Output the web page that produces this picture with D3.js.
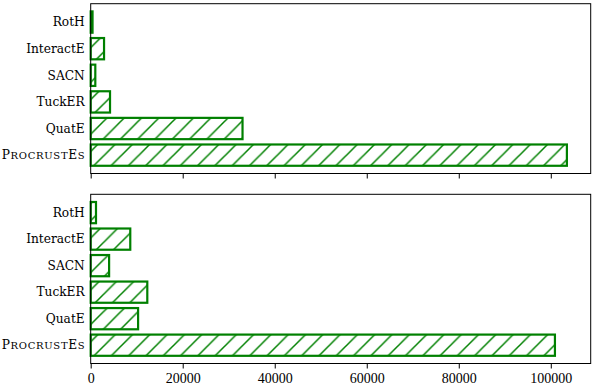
<!DOCTYPE html>
<html>
<head>
<meta charset="utf-8">
<script src="https://cdn.jsdelivr.net/npm/d3@7"></script>
<style>
  body { margin: 0; background: #fff; }
  text { fill: #000; }
  .ylab { font-family: "DejaVu Serif", serif; font-size: 12.2px; }
  .tick text { font-family: "Liberation Serif", "DejaVu Serif", serif; font-size: 14px; }
  .sc { font-size: 10px; }
</style>
</head>
<body>
<svg id="chart" width="598" height="387"></svg>
<script>
// models, bottom to top
var models = ["ProcrustEs", "QuatE", "TuckER", "SACN", "InteractE", "RotH"];
// top panel values
var topValues = [103500, 33000, 4200, 1000, 2900, 400];
// bottom panel values
var bottomValues = [100900, 10300, 12300, 4000, 8600, 1150];
var xTicks = [0, 20000, 40000, 60000, 80000, 100000];

var green = "#008000";

// "ProcrustEs" set in small caps by hand: [text, isSmall]
function smallCapsParts(s){
    var parts = [];
    s.split("").forEach(function(ch) {
        var small = ch !== ch.toUpperCase();
        var last = parts[parts.length - 1];
        if (last && last[1] === small) last[0] += ch.toUpperCase();
        else parts.push([ch.toUpperCase(), small]);
    });
    return parts;
}

function BarPanel(){
    /*
    ** Private Variables
    */
    var g
      , values
      , x
      , top
      , bottom
      , showTickLabels
    ;

    function my() {
        // matplotlib-ish: bars of height 0.8 at 0..n-1, 5% margin
        var n = models.length
          , lo = -0.4 - 0.05 * (n - 0.2)
          , hi = n - 1 + 0.4 + 0.05 * (n - 0.2)
        ;
        var y = d3.scaleLinear().domain([lo, hi]).range([bottom, top]);

        g.selectAll("rect.bar")
            .data(values)
          .enter().append("rect")
            .attr("class", "bar")
            .attr("x", x(0))
            .attr("y", function(d, i) { return y(i + 0.4); })
            .attr("width", function(d) { return x(d) - x(0); })
            .attr("height", function(d, i) { return y(i - 0.4) - y(i + 0.4); })
            .attr("fill", "url(#hatch)")
            .attr("stroke", green)
            .attr("stroke-width", 2.2)
        ;

        // frame
        g.append("rect")
            .attr("x", x.range()[0])
            .attr("y", top)
            .attr("width", x.range()[1] - x.range()[0])
            .attr("height", bottom - top)
            .attr("fill", "none")
            .attr("stroke", "#000")
            .attr("stroke-width", 1)
        ;

        var axis = d3.axisBottom(x)
            .tickValues(xTicks)
            .tickSize(5)
            .tickPadding(5)
            .tickFormat(showTickLabels ? d3.format("d") : "")
        ;
        var ax = g.append("g")
            .attr("transform", "translate(0," + bottom + ")")
            .call(axis)
        ;
        ax.select(".domain").remove();
        ax.attr("font-size", null).attr("font-family", null);

        g.selectAll("text.ylab")
            .data(models)
          .enter().append("text")
            .attr("class", "ylab")
            .attr("x", x(0) - 6)
            .attr("y", function(d, i) { return y(i); })
            .attr("dy", "0.35em")
            .attr("text-anchor", "end")
            .each(function(d) {
                var self = d3.select(this);
                if (d !== "ProcrustEs") { self.text(d); return; }
                smallCapsParts(d).forEach(function(p) {
                    self.append("tspan")
                        .attr("class", p[1] ? "sc" : null)
                        .text(p[0]);
                });
                // fit to the width it has in the original
                self.attr("textLength", 83).attr("lengthAdjust", "spacing");
            })
        ;
    } // my()

    /*
    ** API (Getter/Setter) Functions
    */
    my.g = function (value){
        if(arguments.length === 0) return g;
        g = value;
        return my;
    };
    my.values = function (value){
        if(arguments.length === 0) return values;
        values = value;
        return my;
    };
    my.x = function (value){
        if(arguments.length === 0) return x;
        x = value;
        return my;
    };
    my.top = function (value){
        if(arguments.length === 0) return top;
        top = value;
        return my;
    };
    my.bottom = function (value){
        if(arguments.length === 0) return bottom;
        bottom = value;
        return my;
    };
    my.showTickLabels = function (value){
        if(arguments.length === 0) return showTickLabels;
        showTickLabels = value;
        return my;
    };

    return my;
}

var svg = d3.select("#chart");

// hatch '/' pattern
var hs = 17.3;
var pat = svg.append("defs").append("pattern")
    .attr("id", "hatch")
    .attr("patternUnits", "userSpaceOnUse")
    .attr("width", hs)
    .attr("height", hs)
;
pat.append("rect").attr("width", hs).attr("height", hs).attr("fill", "#fff");
pat.append("path")
    .attr("d", "M0," + hs + "L" + hs + ",0M-2,2L2,-2M" + (hs - 2) + "," + (hs + 2) + "L" + (hs + 2) + "," + (hs - 2))
    .attr("stroke", green)
    .attr("stroke-width", 1.5)
;

var xMax = d3.max(topValues.concat(bottomValues)) * 1.05;
var x = d3.scaleLinear().domain([0, xMax]).range([90.7, 590.7]);

BarPanel()
    .g(svg.append("g"))
    .values(topValues)
    .x(x)
    .top(3.7)
    .bottom(173.5)
    .showTickLabels(false)
    ();

BarPanel()
    .g(svg.append("g"))
    .values(bottomValues)
    .x(x)
    .top(194.3)
    .bottom(363.5)
    .showTickLabels(true)
    ();
</script>
</body>
</html>
